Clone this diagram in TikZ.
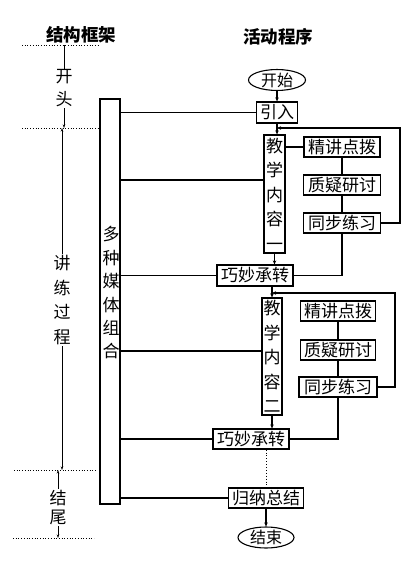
\documentclass[tikz,border=0pt]{standalone}
\usepackage{fontspec}
\usetikzlibrary{arrows.meta,shapes.geometric}
\newfontfamily\cjk{Noto Sans CJK SC}
\tikzset{
  box/.style={draw, line width=1.2pt, inner sep=0pt, font=\cjk\fontsize{17}{17}\selectfont},
  vbox/.style={draw, line width=1.2pt, inner sep=0pt, align=center, font=\cjk\fontsize{17}{24.5}\selectfont},
  oval/.style={draw, ellipse, line width=1.1pt, inner sep=0pt, font=\cjk\fontsize{16}{16}\selectfont},
  conn/.style={line width=1.1pt},
  arr/.style={line width=1.1pt, -{Stealth[length=4pt,width=3.5pt]}},
  tip/.style={line width=0.8pt, -{Stealth[length=3.5pt,width=2.5pt]}},
  divider/.style={dotted, line width=0.7pt},
  head/.style={font=\cjk\bfseries\fontsize{17.5}{17.5}\selectfont},
  lbl/.style={align=center, inner sep=1pt}
}
\begin{document}
\begin{tikzpicture}[x=1pt,y=-1pt]
\useasboundingbox (0,0) rectangle (417,569);
% headers
\node[head] (h1) at (81,35) {结构框架};
\node[head] (h2) at (278,37) {活动程序};
% dividers
\coordinate (d1a) at (22,45);  \coordinate (d1b) at (100,45);
\coordinate (d2a) at (22,128); \coordinate (d2b) at (102,128);
\coordinate (d3a) at (14,470); \coordinate (d3b) at (97,470);
\coordinate (d4a) at (13,538); \coordinate (d4b) at (94,538);
\draw[divider] (d1a) -- (d1b);
\draw[divider] (d2a) -- (d2b);
\draw[divider] (d3a) -- (d3b);
\draw[divider] (d4a) -- (d4b);
% left structure labels
\node[lbl, font=\cjk\fontsize{17}{23}\selectfont] (kt) at (64,88.5) {开\\头};
\node[lbl, font=\cjk\fontsize{17}{24.7}\selectfont] (jl) at (62,300) {讲\\练\\过\\程};
\node[lbl, font=\cjk\fontsize{17}{19}\selectfont] (jw) at (58,507.5) {结\\尾};
\draw[conn, line width=0.8pt] (kt.north |- d1a) -- (kt.north);
\draw[tip] (kt.south) -- (kt.south |- d2a);
\draw[tip] (jl.north) -- (jl.north |- d2a);
\draw[tip] (jl.south) -- (jl.south |- d3a);
\draw[tip] (jw.north) -- (jw.north |- d3a);
\draw[tip] (jw.south) -- (jw.south |- d4a);
% media box
\node[draw, line width=1.3pt, minimum width=20pt, minimum height=405pt, inner sep=0pt] (mm) at (110,301.5) {};
\node[lbl, font=\cjk\fontsize{17}{23.4}\selectfont] (mmt) at (111,293) {多\\种\\媒\\体\\组\\合};
% flow nodes
\node[oval, minimum width=57pt, minimum height=18pt] (start) at (277,80) {开始};
\node[box, minimum width=41pt, minimum height=21pt] (yin) at (277,112.5) {引入};
\node[vbox, minimum width=21pt, minimum height=118pt] (c1) at (274.5,194) {教\\学\\内\\容\\一};
\node[box, minimum width=76pt, minimum height=20pt] (j1) at (342,147) {精讲点拨};
\node[box, minimum width=77pt, minimum height=20pt] (z1) at (342,185) {质疑研讨};
\node[box, minimum width=77pt, minimum height=20pt] (t1) at (342,223) {同步练习};
\node[box, minimum width=76pt, minimum height=21pt] (q1) at (255,275.5) {巧妙承转};
\node[vbox, minimum width=20pt, minimum height=117pt] (c2) at (272,356.5) {教\\学\\内\\容\\二};
\node[box, minimum width=75pt, minimum height=20pt] (j2) at (338,311) {精讲点拨};
\node[box, minimum width=75pt, minimum height=20pt] (z2) at (338,350) {质疑研讨};
\node[box, minimum width=78pt, minimum height=20pt] (t2) at (338,387) {同步练习};
\node[box, minimum width=76pt, minimum height=20pt] (q2) at (251,439) {巧妙承转};
\node[box, minimum width=75pt, minimum height=20pt] (g) at (266,498) {归纳总结};
\node[oval, minimum width=56pt, minimum height=21pt] (end) at (266,537.5) {结束};
% helper coordinates
\coordinate (fb1) at (277,128);
\coordinate (fb1r) at (400,223);
\coordinate (fb2) at (272,293);
\coordinate (fb2r) at (395,388);
\coordinate (l2) at (0,180);
\coordinate (l4) at (0,351);
% media links
\draw[conn] (mm.east |- yin.west) -- (yin.west);
\draw[conn] (mm.east |- l2) -- (c1.west |- l2);
\draw[conn] (mm.east |- q1.west) -- (q1.west);
\draw[conn] (mm.east |- l4) -- (c2.west |- l4);
\draw[conn] (mm.east |- q2.west) -- (q2.west);
\draw[conn] (mm.east |- g.west) -- (g.west);
% main flow
\draw[arr] (start.south) -- (yin.north);
\draw[arr] (yin.south) -- (yin.south |- c1.north);
\draw[conn] (c1.east |- j1.west) -- (j1.west);
\draw[conn] (j1) -- (z1);
\draw[conn] (z1) -- (t1);
\draw[arr] (t1.east) -- (t1.east -| fb1r) |- (fb1);
\draw[conn] (t1.south) |- (q1.east);
\draw[arr] (c1.south) -- (c1.south |- q1.north);
\draw[arr] (c2.north |- q1.south) -- (c2.north);
\draw[conn] (j2) -- (z2);
\draw[conn] (z2) -- (t2);
\draw[arr] (t2.east) -- (t2.east -| fb2r) |- (fb2);
\draw[conn] (t2.south) |- (q2.east);
\draw[arr] (c2.south) -- (c2.south |- q2.north);
\draw[dotted, line width=0.9pt] (g.north |- q2.south) -- (g.north);
\draw[arr] (g.south) -- (end.north);
\end{tikzpicture}
\end{document}
